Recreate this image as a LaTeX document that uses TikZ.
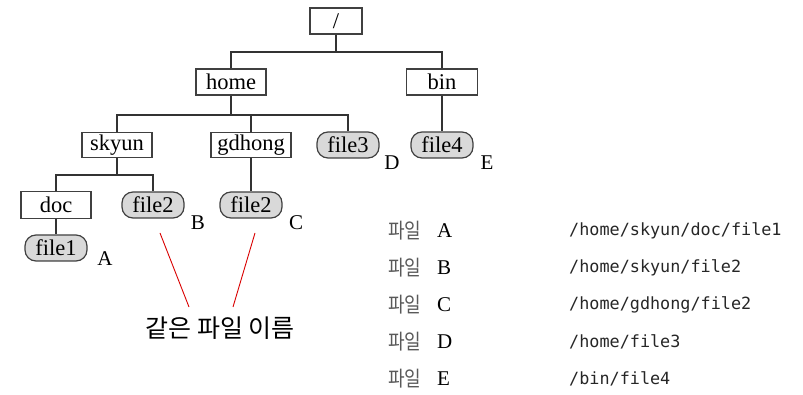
\documentclass[tikz,border=0pt]{standalone}
\usepackage{fontspec}
\setmainfont{Liberation Serif}
\newfontfamily\kofont{Noto Sans CJK KR}
\newfontfamily\monofont{DejaVu Sans Mono}
\newcommand{\kofile}{\scalebox{0.86}[1]{\kofont\fontsize{21}{21}\selectfont 파일}}
\begin{document}
\begin{tikzpicture}[x=1pt,y=-1pt,
  dirbox/.style={draw=black!75,line width=1.2pt,fill=white,inner sep=0pt,
    minimum height=26pt,font=\fontsize{22.5}{22}\selectfont},
  filebox/.style={draw=black!75,line width=1.2pt,fill=black!15,rounded corners=11pt,inner sep=0pt,
    minimum height=26pt,minimum width=62pt,font=\fontsize{22.5}{22}\selectfont},
  tline/.style={draw=black!80,line width=1.2pt},
  letter/.style={font=\fontsize{21}{21}\selectfont,inner sep=0pt},
  redline/.style={draw=red!85!black,line width=0.9pt},
  kolabel/.style={text=black!65,inner sep=0pt,anchor=west},
  keyletter/.style={font=\fontsize{21}{21}\selectfont,inner sep=0pt,anchor=west},
  pathtext/.style={font=\monofont\fontsize{16.8}{17}\selectfont,text=black!85,inner sep=0pt,anchor=west}]
\useasboundingbox (0,0) rectangle (803,395);
% tree nodes
\node[dirbox,minimum width=52pt] (root) at (336,21) {/};
\node[dirbox,minimum width=70pt] (home) at (231,82) {home};
\node[dirbox,minimum width=71pt] (bin) at (442,82) {bin};
\node[dirbox,minimum width=70pt,minimum height=25pt] (skyun) at (117,145) {skyun};
\node[dirbox,minimum width=80pt,minimum height=25pt] (gdhong) at (251,145) {gdhong};
\node[filebox] (file3) at (348,145) {file3};
\node[filebox] (file4) at (442,145) {file4};
\node[dirbox,minimum width=70pt,minimum height=27pt] (doc) at (56,205) {doc};
\node[filebox] (fileB) at (153,205) {file2};
\node[filebox] (fileC) at (251,205) {file2};
\node[filebox] (file1) at (56,248) {file1};
% junctions
\coordinate (j1) at (336,52);
\coordinate (j2) at (231,115);
\coordinate (j3) at (117,175);
% connectors
\draw[tline] (root.south) -- (j1);
\draw[tline] (home.north) |- (j1) -| (bin.north);
\draw[tline] (home.south) -- (j2);
\draw[tline] (skyun.north) |- (j2) -| (file3.north);
\draw[tline] (gdhong.north) -- (gdhong.north |- j2);
\draw[tline] (skyun.south) -- (j3);
\draw[tline] (doc.north) |- (j3) -| (fileB.north);
\draw[tline] (gdhong.south) -- (fileC.north);
\draw[tline] (doc.south) -- (file1.north);
\draw[tline] (bin.south) -- (file4.north);
% letters
\node[letter] (lA) at (105,259) {A};
\node[letter] (lB) at (198,223) {B};
\node[letter] (lC) at (296,223) {C};
\node[letter] (lD) at (392,163) {D};
\node[letter] (lE) at (487,163) {E};
% same-name label
\node[font=\kofont\fontsize{25}{25}\selectfont,inner sep=0pt] (same) at (220,328) {같은 파일 이름};
\coordinate (r1a) at (160,233);
\coordinate (r1b) at (189,307);
\coordinate (r2a) at (255,233);
\coordinate (r2b) at (233,307);
\draw[redline] (r1a) -- (r1b);
\draw[redline] (r2a) -- (r2b);
% table
\node[kolabel] (k1) at (388,231) {\kofile};
\node[keyletter] (kl1) at (437,231) {A};
\node[pathtext] (p1) at (569,231) {/home/skyun/doc/file1};
\node[kolabel] (k2) at (388,268) {\kofile};
\node[keyletter] (kl2) at (437,268) {B};
\node[pathtext] (p2) at (569,268) {/home/skyun/file2};
\node[kolabel] (k3) at (388,305) {\kofile};
\node[keyletter] (kl3) at (437,305) {C};
\node[pathtext] (p3) at (569,305) {/home/gdhong/file2};
\node[kolabel] (k4) at (388,342) {\kofile};
\node[keyletter] (kl4) at (437,342) {D};
\node[pathtext] (p4) at (569,342) {/home/file3};
\node[kolabel] (k5) at (388,379) {\kofile};
\node[keyletter] (kl5) at (437,379) {E};
\node[pathtext] (p5) at (569,379) {/bin/file4};
\end{tikzpicture}
\end{document}
